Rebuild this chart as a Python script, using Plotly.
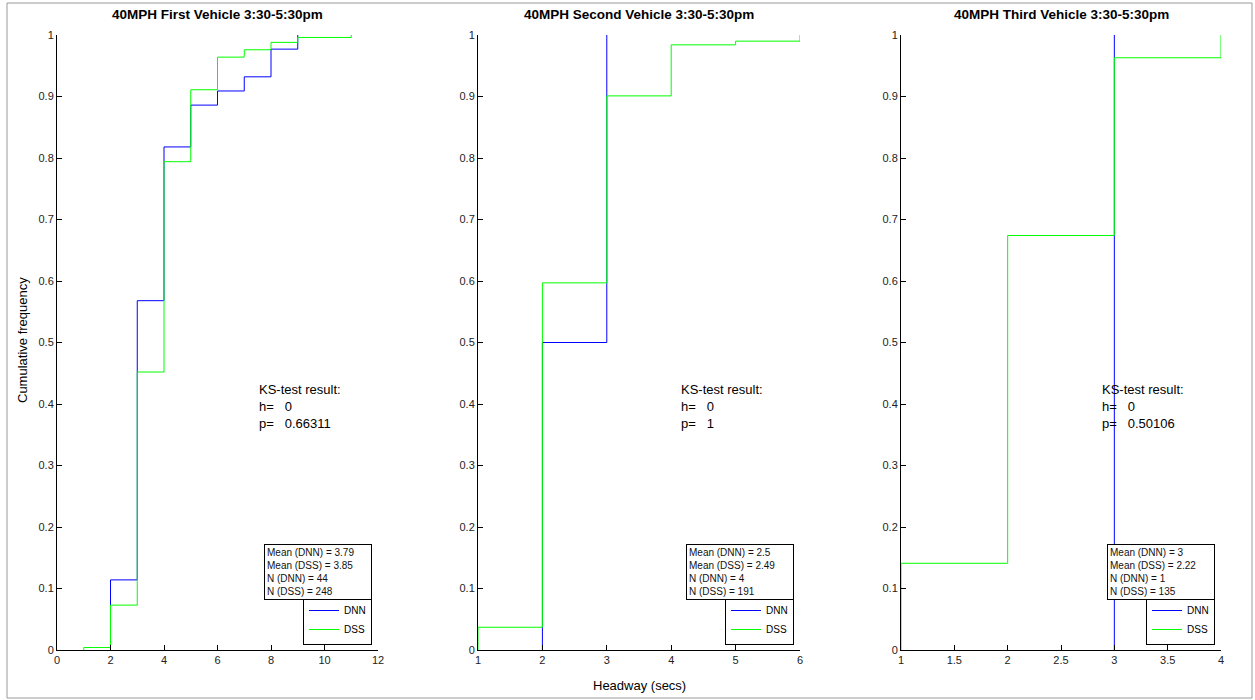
import plotly.graph_objects as go

W, H = 1255, 700

# --- Empirical CDF steps (headway in secs, cumulative fraction) ---
# First vehicle
dnn1_x = [2, 3, 4, 5, 6, 7, 8, 9]
dnn1_F = [0.114, 0.568, 0.818, 0.886, 0.909, 0.932, 0.977, 1.0]
dss1_x = [1, 2, 3, 4, 5, 6, 7, 8, 9, 11]
dss1_F = [0.004, 0.073, 0.452, 0.794, 0.911, 0.964, 0.976, 0.988, 0.996, 1.0]
# Second vehicle
dnn2_x = [2, 3]
dnn2_F = [0.5, 1.0]
dss2_x = [1, 2, 3, 4, 5, 6]
dss2_F = [0.037, 0.597, 0.901, 0.984, 0.990, 1.0]
# Third vehicle
dnn3_x = [3]
dnn3_F = [1.0]
dss3_x = [1, 2, 3, 4]
dss3_F = [0.141, 0.674, 0.963, 1.0]

titles = ["40MPH First Vehicle 3:30-5:30pm",
          "40MPH Second Vehicle 3:30-5:30pm",
          "40MPH Third Vehicle 3:30-5:30pm"]
ks_h = ["0", "0", "0"]
ks_p = ["0.66311", "1", "0.50106"]
mean_dnn = ["3.79", "2.5", "3"]
mean_dss = ["3.85", "2.49", "2.22"]
n_dnn = ["44", "4", "1"]
n_dss = ["248", "191", "135"]

x_ranges = [[0, 12], [1, 6], [1, 4]]
x_dticks = [2, 1, 0.5]

# panel placement in pixels (left, right); shared bottom/top
px_lr = [(57, 378), (478, 800), (901, 1221)]
py_bottom, py_top = 650, 35

FONT = "Liberation Sans, Arial, sans-serif"
BLUE = "#0000ff"
GREEN = "#00ff00"


def fx(px):
    return px / W


def fy(py):
    return 1 - py / H


def stairs(xs, fs):
    return [xs[0]] + list(xs), [0.0] + list(fs)


fig = go.Figure()

series = [(dnn1_x, dnn1_F, dss1_x, dss1_F),
          (dnn2_x, dnn2_F, dss2_x, dss2_F),
          (dnn3_x, dnn3_F, dss3_x, dss3_F)]

for i, (dx, dF, sx, sF) in enumerate(series):
    suffix = "" if i == 0 else str(i + 1)
    lg = "legend" if i == 0 else f"legend{i + 1}"
    x, y = stairs(dx, dF)
    fig.add_trace(go.Scatter(x=x, y=y, mode="lines", line=dict(color=BLUE, width=1, shape="hv"),
                             name="DNN", xaxis="x" + suffix, yaxis="y" + suffix, legend=lg))
    x, y = stairs(sx, sF)
    fig.add_trace(go.Scatter(x=x, y=y, mode="lines", line=dict(color=GREEN, width=1, shape="hv"),
                             name="DSS", xaxis="x" + suffix, yaxis="y" + suffix, legend=lg))

layout = dict(
    width=W, height=H,
    margin=dict(l=0, r=0, t=0, b=0, pad=0, autoexpand=False),
    paper_bgcolor="white", plot_bgcolor="white",
    font=dict(family=FONT, size=11, color="#222"),
    showlegend=True,
    annotations=[], shapes=[],
)

axis_common = dict(showgrid=False, zeroline=False, showline=True, linecolor="#000", linewidth=1,
                   ticks="inside", ticklen=5, tickwidth=1, tickcolor="#000", automargin=False,
                   tickfont=dict(family=FONT, size=11, color="#222"), fixedrange=True)

for i in range(3):
    suffix = "" if i == 0 else str(i + 1)
    l, r = px_lr[i]
    layout["xaxis" + suffix] = dict(axis_common, domain=[fx(l), fx(r)], range=x_ranges[i],
                                    dtick=x_dticks[i], tick0=x_ranges[i][0],
                                    anchor="y" + suffix)
    layout["yaxis" + suffix] = dict(axis_common, domain=[fy(py_bottom), fy(py_top)], range=[0, 1],
                                    dtick=0.1, tick0=0, anchor="x" + suffix)

    # panel title
    layout["annotations"].append(dict(
        xref="paper", yref="paper", x=fx((l + r) / 2), y=fy(14), xanchor="center", yanchor="middle",
        text=f"<b>{titles[i]}</b>", showarrow=False, font=dict(family=FONT, size=13.5, color="#000")))

    # KS-test text
    sp = "\u00a0\u00a0\u00a0"
    layout["annotations"].append(dict(
        xref="paper", yref="paper", x=fx(r - 121), y=fy(380), xanchor="left", yanchor="top",
        align="left", showarrow=False, font=dict(family=FONT, size=13, color="#000"),
        text=f"KS-test result:<br>h={sp}{ks_h[i]}<br>p={sp}{ks_p[i]}"))

    # summary box
    layout["annotations"].append(dict(
        xref="paper", yref="paper", x=fx(r - 6), y=fy(544), xanchor="right", yanchor="top",
        align="left", showarrow=False, bordercolor="#000", borderwidth=1, borderpad=2,
        bgcolor="white", width=102, font=dict(family=FONT, size=10, color="#111"),
        text=(f"Mean (DNN) = {mean_dnn[i]}<br>Mean (DSS) = {mean_dss[i]}"
              f"<br>N (DNN) = {n_dnn[i]}<br>N (DSS) = {n_dss[i]}")))

    lg = "legend" if i == 0 else f"legend{i + 1}"
    layout[lg] = dict(xref="paper", yref="paper", x=fx(r - 6), y=fy(645), xanchor="right",
                      yanchor="bottom", bgcolor="white", bordercolor="#000", borderwidth=1,
                      font=dict(family=FONT, size=10, color="#000"), tracegroupgap=0,
                      itemwidth=30)

# shared axis labels
layout["annotations"].append(dict(
    xref="paper", yref="paper", x=fx(639), y=fy(685), xanchor="center", yanchor="middle",
    text="Headway (secs)", showarrow=False, font=dict(family=FONT, size=13, color="#000")))
layout["annotations"].append(dict(
    xref="paper", yref="paper", x=fx(22), y=fy(340), xanchor="center", yanchor="middle",
    text="Cumulative frequency", textangle=-90, showarrow=False,
    font=dict(family=FONT, size=13, color="#000")))

# figure frame
layout["shapes"].append(dict(type="rect", xref="paper", yref="paper",
                             x0=fx(7), x1=fx(1252), y0=fy(698), y1=fy(3),
                             line=dict(color="#999", width=1), fillcolor="rgba(0,0,0,0)", layer="below"))

fig.update_layout(**layout)
fig.write_html("out.html")
